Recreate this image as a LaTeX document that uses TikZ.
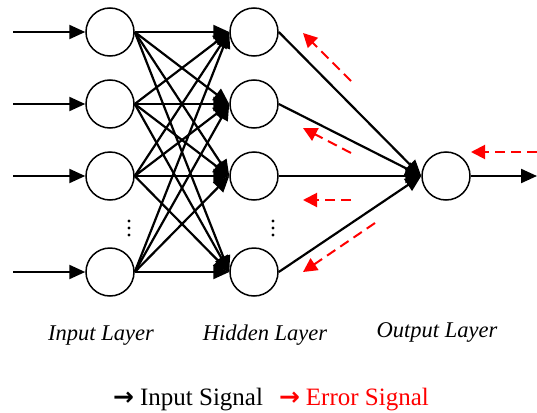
\documentclass[tikz,border=0pt]{standalone}
\usepackage{fontspec}
\setmainfont{Liberation Serif}
\newfontfamily\symfont{DejaVu Sans}
\usetikzlibrary{arrows.meta}

\begin{document}
\begin{tikzpicture}[x=1pt,y=-1pt,
  neuron/.style={circle,draw,line width=1.5pt,minimum size=48pt,inner sep=0pt},
  sig/.style={line width=2.2pt,-{Triangle[length=16pt,width=14pt]}},
  err/.style={red,line width=2pt,dash pattern=on 10pt off 6pt,-{Triangle[length=14pt,width=14pt]}},
  layer/.style={font=\fontsize{22.5}{26}\selectfont\itshape,anchor=base,inner sep=0pt},
  dot/.style={fill=black}
]
\useasboundingbox (0,0) rectangle (537,412);

% input layer
\node[neuron] (i1) at (110,32) {};
\node[neuron] (i2) at (110,104) {};
\node[neuron] (i3) at (110,176) {};
\node[neuron] (i4) at (110,272) {};
% hidden layer
\node[neuron] (h1) at (254,32) {};
\node[neuron] (h2) at (254,104) {};
\node[neuron] (h3) at (254,176) {};
\node[neuron] (h4) at (254,272) {};
% output layer
\node[neuron] (o) at (446,176) {};

% ellipsis dots
\foreach \yy in {221,228,235} {
  \fill[dot] (129,\yy) circle (1.7pt);
  \fill[dot] (273,\yy) circle (1.7pt);
}

% incoming signals
\foreach \k/\yy in {1/32,2/104,3/176,4/272} {
  \coordinate (s\k) at (13,\yy);
  \draw[sig] (s\k) -- (i\k.west);
}

% input -> hidden
\foreach \a in {1,...,4} {
  \foreach \b in {1,...,4} {
    \draw[sig] (i\a.east) -- (h\b.west);
  }
}

% hidden -> output
\foreach \b in {1,...,4} {
  \draw[sig] (h\b.east) -- (o.west);
}

% outgoing signal
\coordinate (t) at (537,176);
\draw[sig] (o.east) -- (t);

% back-propagated error
\coordinate (e1s) at (351,81);  \coordinate (e1t) at (303,33);
\coordinate (e2s) at (351,153); \coordinate (e2t) at (303,128);
\coordinate (e3s) at (351,200); \coordinate (e3t) at (303,200);
\coordinate (e4s) at (375,223); \coordinate (e4t) at (303,272);
\coordinate (e5s) at (537,152); \coordinate (e5t) at (471,152);
\foreach \k in {1,...,5} {
  \draw[err] (e\k s) -- (e\k t);
}

% layer captions
\node[layer] (li) at (101,340) {Input Layer};
\node[layer] (lh) at (265,340) {Hidden Layer};
\node[layer] (lo) at (437,337) {Output Layer};

% legend
\node[anchor=base,inner sep=0pt,font=\fontsize{25}{28}\selectfont] (legend) at (271,405)
  {{\symfont\bfseries →}\hspace{6pt}Input Signal\hspace{16pt}\textcolor{red}{{\symfont\bfseries →}\hspace{6pt}Error Signal}};
\end{tikzpicture}
\end{document}
